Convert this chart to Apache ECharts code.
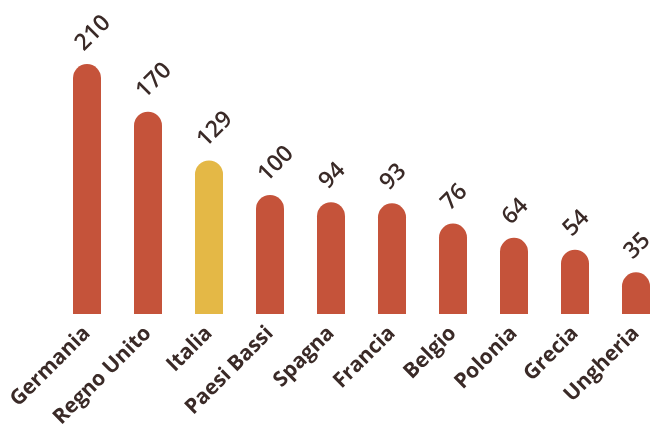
<!DOCTYPE html>
<html><head><meta charset="utf-8">
<script src="https://cdn.jsdelivr.net/npm/echarts@6/dist/echarts.min.js"></script>
<style>html,body{margin:0;padding:0;background:#fff}#c{width:656px;height:426px}</style>
</head><body><div id="c"></div>
<script>
const categories = ["Germania","Regno Unito","Italia","Paesi Bassi","Spagna","Francia","Belgio","Polonia","Grecia","Ungheria"];
const values = [210,170,129,100,94,93,76,64,54,35];
const highlight = "Italia";

const RED = "#c5533a", YELLOW = "#e4b846", TEXT = "#3a2a27";
const FONT = "'Open Sans', sans-serif";
const chart = echarts.init(document.getElementById('c'), null, {renderer:'canvas'});
chart.setOption({
  animation:false,
  grid:{left:56.5, width:610, top:16.5, bottom:112, containLabel:false, outerBoundsMode:'none'},
  xAxis:{type:'category', data:categories,
    axisLine:{show:false}, axisTick:{show:false},
    axisLabel:{rotate:45, interval:0, margin:16, color:TEXT, fontFamily:FONT, fontWeight:700, fontSize:21}},
  yAxis:{type:'value', min:0, max:250, show:false, splitLine:{show:false}},
  series:[{type:'bar', barWidth:28,
    data: values.map((v,i)=>({value:v, itemStyle:{color: categories[i]===highlight?YELLOW:RED}})),
    itemStyle:{borderRadius:[14,14,0,0]},
    label:{show:true, position:[6,-17], rotate:45, align:'left', verticalAlign:'middle',
      color:TEXT, fontFamily:FONT, fontWeight:600, fontSize:23}
  }]
});
</script></body></html>
